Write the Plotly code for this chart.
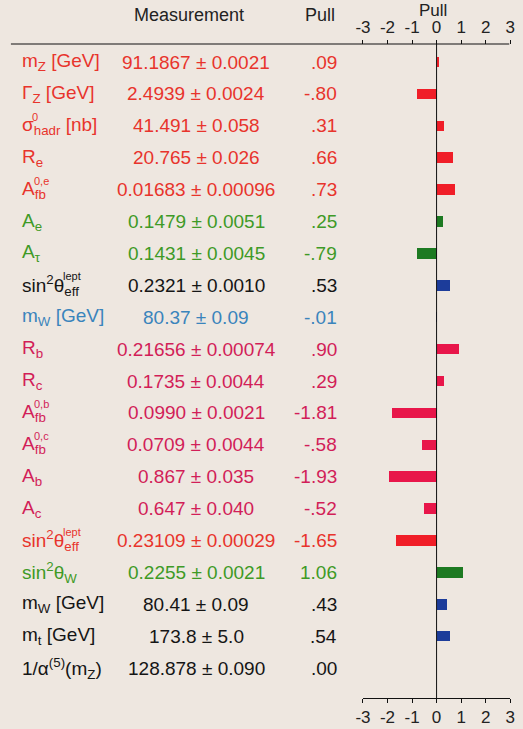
import plotly.graph_objects as go

W, H = 523, 729

# ---------------- data ----------------
label_base = ["m", "Γ", "σ", "R", "A", "A", "A", "sin<sup>2</sup>θ", "m", "R", "R", "A", "A", "A", "A",
              "sin<sup>2</sup>θ", "sin<sup>2</sup>θ", "m", "m", "1/α<sup>(5)</sup>(m<sub>Z</sub>)"]
label_sub = ["Z", "Z", "hadr", "e", "fb", "e", "τ", "eff", "W", "b", "c", "fb", "fb", "b", "c",
             "eff", "W", "W", "t", ""]
label_sup = ["", "", "0", "", "0,e", "", "", "lept", "", "", "", "0,b", "0,c", "", "",
             "lept", "", "", "", ""]
label_suffix = [" [GeV]", " [GeV]", " [nb]", "", "", "", "", "", " [GeV]", "", "", "", "", "", "",
                "", "", " [GeV]", " [GeV]", ""]
measurements = ["91.1867 ± 0.0021", "2.4939 ± 0.0024", "41.491 ± 0.058", "20.765 ± 0.026",
                "0.01683 ± 0.00096", "0.1479 ± 0.0051", "0.1431 ± 0.0045", "0.2321 ± 0.0010",
                "80.37 ± 0.09", "0.21656 ± 0.00074", "0.1735 ± 0.0044", "0.0990 ± 0.0021",
                "0.0709 ± 0.0044", "0.867 ± 0.035", "0.647 ± 0.040", "0.23109 ± 0.00029",
                "0.2255 ± 0.0021", "80.41 ± 0.09", "173.8 ± 5.0", "128.878 ± 0.090"]
pull_labels = [".09", "-.80", ".31", ".66", ".73", ".25", "-.79", ".53", "-.01", ".90", ".29",
               "-1.81", "-.58", "-1.93", "-.52", "-1.65", "1.06", ".43", ".54", ".00"]
pulls = [0.09, -0.80, 0.31, 0.66, 0.73, 0.25, -0.79, 0.53, -0.01, 0.90, 0.29,
         -1.81, -0.58, -1.93, -0.52, -1.65, 1.06, 0.43, 0.54, 0.00]
groups = ["zred", "zred", "zred", "zred", "zred", "green", "green", "black", "blue",
          "crimson", "crimson", "crimson", "crimson", "crimson", "crimson",
          "red", "green", "black", "black", "black"]
bar_group = ["zred", "zred", "zred", "zred", "zred", "green", "green", "navy", "navy",
             "crimson", "crimson", "crimson", "crimson", "crimson", "crimson",
             "zred", "green", "navy", "navy", "navy"]
pull_ticks = [-3, -2, -1, 0, 1, 2, 3]

# ---------------- styles ----------------
BG = "#EEE7E0"
text_colors = {"zred": "#E8342C", "red": "#E8342C", "green": "#3E9A26", "black": "#151515",
               "blue": "#3A84BC", "crimson": "#D21E58"}
bar_colors = {"zred": "#F01E28", "green": "#1D7A22", "navy": "#1C3C9A", "crimson": "#E8164A"}
FONT = "Liberation Sans, Arial, sans-serif"
FS = 19
base_width = {"m": 0.833 * FS, "Γ": 0.556 * FS, "σ": 0.57 * FS, "R": 0.722 * FS, "A": 0.667 * FS,
              "sin<sup>2</sup>θ": 1.834 * FS + 0.556 * FS * 0.7}

rows = list(range(len(pulls)))
y0_px, dy_px = 62.0, 31.9
yr = [(H - y0_px) / dy_px, -y0_px / dy_px]

def px(x):
    return x / W

def py(y):
    return 1 - y / H

fig = go.Figure()
fig.add_trace(go.Bar(
    x=pulls, y=rows, orientation="h", width=0.33,
    marker=dict(color=[bar_colors[g] for g in bar_group], line=dict(width=0)),
    hoverinfo="skip", showlegend=False,
))
# invisible trace for the top axis
fig.add_trace(go.Scatter(x=[-3, 3], y=[0, 0], xaxis="x2", yaxis="y", mode="markers",
                         marker=dict(opacity=0), hoverinfo="skip", showlegend=False))

ann = []
for i in rows:
    col = text_colors[groups[i]]
    main = label_base[i]
    if label_sub[i]:
        main += "<sub>" + label_sub[i] + "</sub>"
    main += label_suffix[i]
    ann.append(dict(x=px(12), y=i, xref="paper", yref="y", text=main, showarrow=False,
                    xanchor="left", yanchor="middle", font=dict(size=FS, color=col, family=FONT)))
    if label_sup[i]:
        ann.append(dict(x=px(12 + base_width[label_base[i]]), y=i, xref="paper", yref="y",
                        text=label_sup[i], showarrow=False, xanchor="left", yanchor="middle",
                        yshift=9, font=dict(size=11, color=col, family=FONT)))
    ann.append(dict(x=px(193), y=i, xref="paper", yref="y", text=measurements[i], showarrow=False,
                    xanchor="center", yanchor="middle", font=dict(size=FS, color=col, family=FONT)))
    ann.append(dict(x=px(339), y=i, xref="paper", yref="y", text=pull_labels[i], showarrow=False,
                    xanchor="right", yanchor="middle", font=dict(size=FS, color=col, family=FONT)))

ann += [
    dict(x=px(186), y=py(15), xref="paper", yref="paper", text="Measurement", showarrow=False,
         xanchor="center", yanchor="middle", font=dict(size=18, color="#222", family=FONT)),
    dict(x=px(320), y=py(15), xref="paper", yref="paper", text="Pull", showarrow=False,
         xanchor="center", yanchor="middle", font=dict(size=18, color="#222", family=FONT)),
    dict(x=px(436), y=py(10), xref="paper", yref="paper", text="Pull", showarrow=False,
         xanchor="center", yanchor="middle", font=dict(size=17, color="#222", family=FONT)),
]

shapes = [
    dict(type="line", xref="paper", yref="paper", x0=px(3), x1=px(514), y0=py(44), y1=py(44),
         line=dict(color="#111", width=1.2)),
    dict(type="line", xref="x", yref="paper", x0=0, x1=0, y0=py(698), y1=py(44),
         line=dict(color="#111", width=1)),
]

axis_common = dict(range=[-3, 3], tickvals=pull_ticks, ticktext=[str(t) for t in pull_ticks],
                   ticks="outside", ticklen=4, tickcolor="#111", showgrid=False, zeroline=False,
                   tickfont=dict(size=17, color="#222", family=FONT),
                   domain=[px(364), px(515)], fixedrange=True)

fig.update_layout(
    width=W, height=H, margin=dict(l=0, r=0, t=0, b=0, pad=0),
    paper_bgcolor=BG, plot_bgcolor="rgba(0,0,0,0)",
    xaxis=dict(**axis_common, anchor="free", position=py(698), side="bottom",
               showline=True, linecolor="#111", linewidth=1),
    xaxis2=dict(**axis_common, anchor="free", position=py(44), side="top", overlaying="x",
                showline=False, ticklabelstandoff=0),
    yaxis=dict(range=yr, visible=False, domain=[0, 1], fixedrange=True),
    annotations=ann, shapes=shapes, bargap=0,
)

fig.write_html("out.html", config={"displayModeBar": False},
               post_script="document.body.style.margin='0';document.body.style.padding='0';")
